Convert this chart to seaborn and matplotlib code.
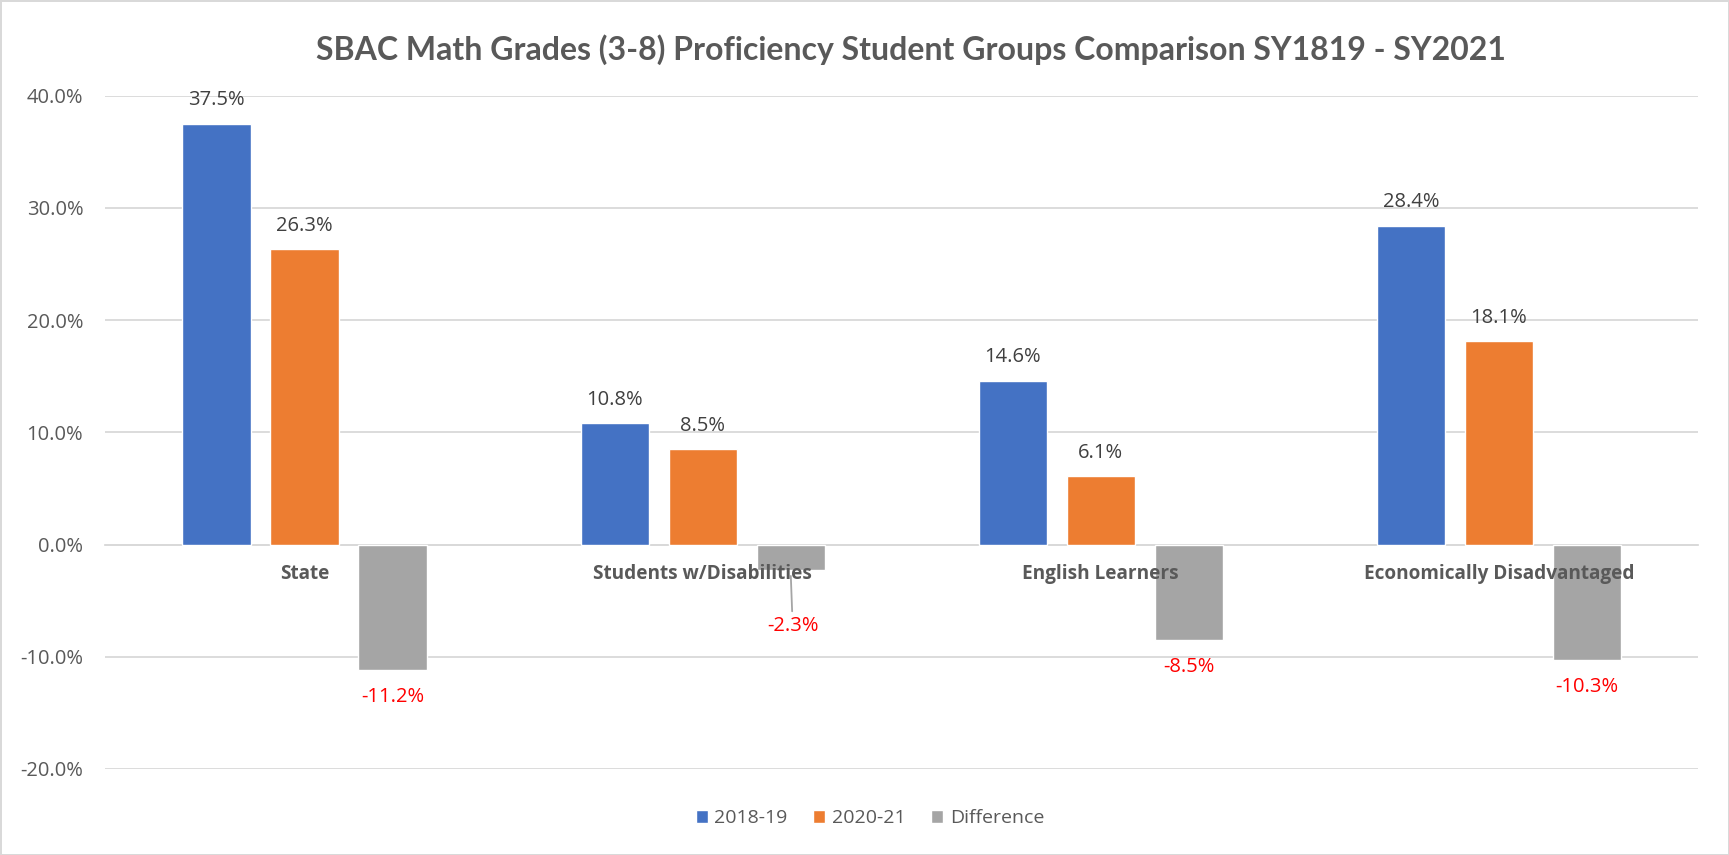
import matplotlib
matplotlib.use("Agg")
import matplotlib.pyplot as plt
import seaborn as sns
import pandas as pd
from matplotlib.ticker import FuncFormatter

groups = ["State", "Students w/Disabilities", "English Learners", "Economically Disadvantaged"]
series_names = ["2018-19", "2020-21", "Difference"]
v_1819 = [37.5, 10.8, 14.6, 28.4]
v_2021 = [26.3, 8.5, 6.1, 18.1]
v_diff = [-11.2, -2.3, -8.5, -10.3]

rows = []
for name, vals in zip(series_names, [v_1819, v_2021, v_diff]):
    for g, v in zip(groups, vals):
        rows.append({"Group": g, "Series": name, "Value": v})
df = pd.DataFrame(rows)

sns.set_theme(style="white")
plt.rcParams['font.family'] = ['Open Sans', 'DejaVu Sans']

fig = plt.figure(figsize=(17.29, 8.55), dpi=100)
ax = fig.add_axes([0.061, 0.1006, 0.921, 0.7874])

palette = {"2018-19": "#4472C4", "2020-21": "#ED7D31", "Difference": "#A5A5A5"}
sns.barplot(data=df, x="Group", y="Value", hue="Series", palette=palette,
            width=0.663, gap=0.225, ax=ax, saturation=1, legend=True, zorder=3)

ax.set_ylim(-20, 40)
ax.set_xlim(-0.5, 3.5)
ax.set_yticks([-20, -10, 0, 10, 20, 30, 40])
ax.yaxis.set_major_formatter(FuncFormatter(lambda v, p: f"{v:.1f}%"))
ax.grid(axis="y", color="#D9D9D9", linewidth=1.3, zorder=0)
ax.set_axisbelow(True)
for s in ["left", "right", "top"]:
    ax.spines[s].set_visible(False)
ax.spines["bottom"].set_position(("data", 0))
ax.spines["bottom"].set_color("#D9D9D9")
ax.spines["bottom"].set_linewidth(1.3)
ax.set_xlabel("")
ax.set_ylabel("")
ax.tick_params(axis="y", length=0, labelsize=14.5, labelcolor="#595959", pad=16)
ax.tick_params(axis="x", length=0)
ax.set_xticklabels([])

# category labels drawn on top of bars, at the zero line
for i, g in enumerate(groups):
    ax.annotate(g, (i, 0), xytext=(0, -21), textcoords="offset points",
                ha="center", va="center", fontsize=13.7, fontweight="bold",
                color="#595959", zorder=6)

# data labels
for ci, cont in enumerate(ax.containers):
    vals = [v_1819, v_2021, v_diff][ci]
    for rect, val in zip(cont.patches, vals):
        cx = rect.get_x() + rect.get_width() / 2
        if val >= 0:
            ax.annotate(f"{val:.1f}%", (cx, val), xytext=(0, 17), textcoords="offset points",
                        ha="center", va="center", fontsize=14.5, color="#404040", zorder=6)
        elif abs(val) < 5:
            ax.annotate(f"{val:.1f}%", (cx, val), xytext=(1.5, -40), textcoords="offset points",
                        ha="center", va="center", fontsize=14.5, color="#FF0000", zorder=6,
                        arrowprops=dict(arrowstyle="-", color="#A5A5A5", lw=1.3,
                                        shrinkA=1, shrinkB=4))
        else:
            ax.annotate(f"{val:.1f}%", (cx, val), xytext=(0, -19.5), textcoords="offset points",
                        ha="center", va="center", fontsize=14.5, color="#FF0000", zorder=6)

leg = ax.legend(loc="center", bbox_to_anchor=(0.48, -0.073), ncol=3, frameon=False,
                fontsize=14, handlelength=0.62, handleheight=0.62, columnspacing=1.3,
                handletextpad=0.35)
for t in leg.get_texts():
    t.set_color("#595959")

fig.text(0.527, 0.942, "SBAC Math Grades (3-8) Proficiency Student Groups Comparison SY1819 - SY2021",
         ha="center", va="center", fontsize=23, fontweight="bold", color="#595959",
         family=["Lato", "DejaVu Sans"])

fig.patch.set_facecolor("white")
fig.patch.set_edgecolor("#D9D9D9")
fig.patch.set_linewidth(2)
fig.savefig("out.png", dpi=100, facecolor=fig.get_facecolor(), edgecolor=fig.get_edgecolor())
